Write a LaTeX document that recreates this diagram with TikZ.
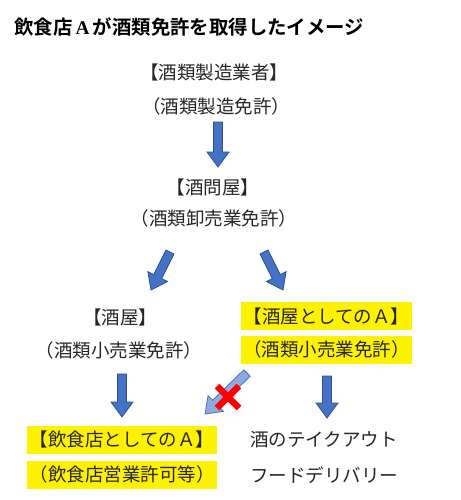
\documentclass[tikz,border=0pt]{standalone}
\usepackage{fontspec}
\newfontfamily\jp{Noto Sans CJK JP}
\newfontfamily\jpb{Noto Sans CJK JP Bold}
\newfontfamily\serifb{Liberation Serif Bold}
\usetikzlibrary{calc}
\definecolor{txt}{HTML}{262626}
\definecolor{ablue}{HTML}{4472C4}
\definecolor{aedge}{HTML}{2F528F}
\definecolor{lblue}{HTML}{8FAADC}
\tikzset{
  lbl/.style={font=\jp\fontsize{18.5pt}{20pt}\selectfont, text=txt, inner sep=0pt, anchor=center},
  hl/.style={lbl, fill=yellow, minimum height=28pt},
  arrowfill/.style={fill=ablue, draw=aedge, line width=0.8pt},
  fadedarrow/.style={fill=lblue, draw=ablue, line width=0.8pt},
  crossline/.style={draw=red, line width=6.5pt}
}
% block arrow: #1 style, #2 from, #3 to
\newcommand\blockarrow[3]{%
  \coordinate (q) at ($(#3)!15pt!(#2)$);
  \path[#1] ($(#2)!4.5pt!90:(#3)$) -- ($(q)!4.5pt!-90:(#2)$) -- ($(q)!11pt!-90:(#2)$) -- (#3)
    -- ($(q)!11pt!90:(#2)$) -- ($(q)!4.5pt!90:(#2)$) -- ($(#2)!4.5pt!-90:(#3)$) -- cycle;}
\begin{document}
\begin{tikzpicture}[x=1pt,y=-1pt]
\useasboundingbox (0,0) rectangle (460,500);
\fill[white] (0,0) rectangle (460,500);
% title
\node[anchor=west, inner sep=0pt, font=\jpb\fontsize{19.4pt}{21pt}\selectfont] (title) at (14,27)
  {飲食店\,{\serifb A}\,が酒類免許を取得したイメージ};
% texts
\node[lbl] (maker) at (214,72) {【酒類製造業者】};
\node[lbl] (makerlic) at (216,106) {（酒類製造免許）};
\node[lbl] (whole) at (213,187) {【酒問屋】};
\node[lbl] (wholelic) at (214,218) {（酒類卸売業免許）};
\node[lbl] (shop) at (120,317) {【酒屋】};
\node[lbl] (shoplic) at (119,350) {（酒類小売業免許）};
\node[hl, minimum width=171pt] (ashop) at (326.5,316) {【酒屋としてのＡ】};
\node[hl, minimum width=171pt] (ashoplic) at (326.5,349.5) {（酒類小売業免許）};
\node[hl, minimum width=190pt] (arest) at (122,439.5) {【飲食店としてのＡ】};
\node[hl, minimum width=190pt] (arestlic) at (122,474.5) {（飲食店営業許可等）};
\node[lbl, anchor=west] (takeout) at (250,440) {酒のテイクアウト};
\node[lbl, anchor=west] (delivery) at (250,475) {フードデリバリー};
% arrow end points
\coordinate (a1s) at (218,122);
\coordinate (a1e) at (218,167);
\coordinate (a2s) at (170,252);
\coordinate (a2e) at (151,290);
\coordinate (a3s) at (264,252);
\coordinate (a3e) at (283,290);
\coordinate (a4s) at (122,374);
\coordinate (a4e) at (122,417);
\coordinate (a5s) at (327,376);
\coordinate (a5e) at (327,418);
\coordinate (a6s) at (247,373);
\coordinate (a6e) at (205,414);
\blockarrow{arrowfill}{a1s}{a1e}
\blockarrow{arrowfill}{a2s}{a2e}
\blockarrow{arrowfill}{a3s}{a3e}
\blockarrow{arrowfill}{a4s}{a4e}
\blockarrow{arrowfill}{a5s}{a5e}
\blockarrow{fadedarrow}{a6s}{a6e}
% red cross
\coordinate (x1) at (217,386);
\coordinate (x2) at (239,408);
\coordinate (x3) at (239,386);
\coordinate (x4) at (217,408);
\draw[crossline] (x1) -- (x2);
\draw[crossline] (x3) -- (x4);
\end{tikzpicture}
\end{document}
